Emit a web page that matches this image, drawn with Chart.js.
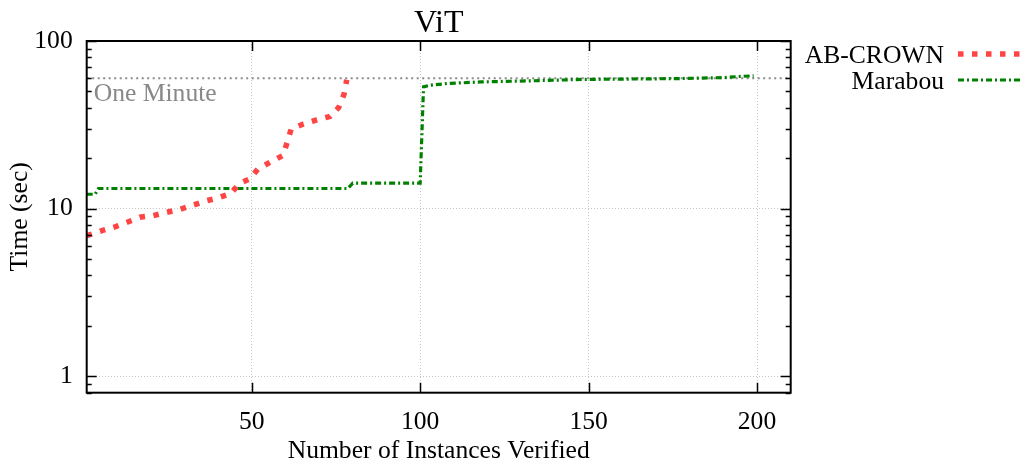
<!DOCTYPE html>
<html>
<head>
<meta charset="utf-8">
<script src="https://cdn.jsdelivr.net/npm/chart.js"></script>
<style>
  body { margin: 0; background: #fff; }
  #wrap { width: 1026px; height: 468px; position: relative; }
</style>
</head>
<body>
<div id="wrap"><canvas id="c"></canvas></div>
<script>
// values
const abX = [1, 5.5, 9.4, 13, 16.8, 20.8, 24.5, 28.5, 32.6, 36.1, 40, 43.7, 46.3, 49.5, 51.9, 55.6, 59.3, 60.5, 61.7, 65.3, 69.2, 73.2, 75.8, 77.4, 78.2];
const abY = [6.9, 7.4, 7.8, 8.3, 8.9, 9.1, 9.5, 9.9, 10.5, 11.1, 11.6, 12.3, 14.1, 15.1, 17.3, 19, 20.8, 24.8, 29.8, 32, 33.8, 35.5, 40.1, 48.2, 58.7];
const maraX = [1, 3.5, 4.5, 78.5, 80, 100, 101, 103, 108, 118, 133, 148, 165, 177, 190, 195, 199];
const maraY = [12.2, 12.2, 13.2, 13.2, 14.2, 14.2, 53.3, 54.5, 55.8, 57.0, 57.9, 59.0, 59.4, 59.7, 60.5, 61.5, 62];
const oneMinute = 60;
const xTicks = [50, 100, 150, 200];
const yTicks = [1, 10, 100];
const xMin = 1, xMax = 210, yMin = 0.8, yMax = 100;

const serif = "'Liberation Serif', 'Times New Roman', serif";
const red = '#ff4444';
const green = '#008000';

function pts(xs, ys) { return xs.map((x, i) => ({ x: x, y: ys[i] })); }

const deco = {
  id: 'deco',
  afterDraw(chart) {
    const ctx = chart.ctx;
    const a = chart.chartArea;
    const xs = chart.scales.x, ys = chart.scales.y;
    ctx.save();
    // frame
    ctx.strokeStyle = '#000';
    ctx.lineWidth = 2;
    ctx.strokeRect(a.left, a.top, a.right - a.left, a.bottom - a.top);
    // tick marks inside
    ctx.lineWidth = 1.5;
    ctx.beginPath();
    xTicks.forEach(v => {
      const p = Math.round(xs.getPixelForValue(v)) + 0.5;
      ctx.moveTo(p, a.bottom); ctx.lineTo(p, a.bottom - 10);
      ctx.moveTo(p, a.top); ctx.lineTo(p, a.top + 10);
    });
    for (let d = 0.1; d <= 100; d *= 10) {
      for (let k = 1; k <= 9; k++) {
        const v = d * k;
        if (v < yMin - 1e-9 || v > yMax + 1e-9) continue;
        const len = k === 1 ? 10 : 5;
        const p = Math.round(ys.getPixelForValue(v)) + 0.5;
        ctx.moveTo(a.left, p); ctx.lineTo(a.left + len, p);
        ctx.moveTo(a.right, p); ctx.lineTo(a.right - len, p);
      }
    }
    ctx.stroke();

    // title
    ctx.fillStyle = '#000';
    ctx.font = '32px ' + serif;
    ctx.textAlign = 'center';
    ctx.textBaseline = 'alphabetic';
    ctx.fillText('ViT', (a.left + a.right) / 2, 32);

    // one minute label
    ctx.fillStyle = '#888';
    ctx.font = '25.6px ' + serif;
    ctx.textAlign = 'left';
    ctx.fillText('One Minute', a.left + 7, ys.getPixelForValue(oneMinute) + 22.5);

    // legend
    const items = [
      { t: 'AB-CROWN', ds: chart.data.datasets[0], y: 54 },
      { t: 'Marabou', ds: chart.data.datasets[1], y: 80 }
    ];
    ctx.font = '25.6px ' + serif;
    ctx.textAlign = 'right';
    items.forEach(it => {
      ctx.fillStyle = '#000';
      ctx.fillText(it.t, 944, it.y + 9);
      ctx.strokeStyle = it.ds.borderColor;
      ctx.lineWidth = it.ds.borderWidth;
      ctx.setLineDash(it.ds.borderDash);
      ctx.beginPath();
      ctx.moveTo(958, it.y);
      ctx.lineTo(1022, it.y);
      ctx.stroke();
    });
    ctx.restore();
  }
};

new Chart(document.getElementById('c'), {
  type: 'line',
  data: {
    datasets: [
      { label: 'AB-CROWN', data: pts(abX, abY), borderColor: red, borderWidth: 5.5, borderDash: [5.5, 8.5], borderCapStyle: 'butt', pointRadius: 0, tension: 0, fill: false },
      { label: 'Marabou', data: pts(maraX, maraY), borderColor: green, borderWidth: 3.2, borderDash: [6, 3, 2, 3], pointRadius: 0, tension: 0, fill: false },
      { label: 'One Minute', data: [{ x: xMin, y: oneMinute }, { x: xMax, y: oneMinute }], borderColor: '#8a8a8a', borderWidth: 2, borderDash: [2, 3.5], pointRadius: 0, fill: false, order: 5 }
    ]
  },
  options: {
    responsive: true,
    maintainAspectRatio: false,
    animation: false,
    layout: { padding: { top: 41, right: 235.3, left: 0, bottom: 0 } },
    plugins: { legend: { display: false }, title: { display: false }, tooltip: { enabled: false } },
    scales: {
      x: {
        type: 'linear', min: xMin, max: xMax,
        afterBuildTicks: s => { s.ticks = xTicks.map(v => ({ value: v })); },
        afterFit: s => { s.height = 75.3; },
        ticks: { color: '#000', font: { family: serif, size: 25.6 }, padding: 14, maxRotation: 0 },
        grid: { color: '#c4c4c4', lineWidth: 1, drawTicks: false },
        border: { display: false, dash: [1, 2] },
        title: { display: true, text: 'Number of Instances Verified', color: '#000', font: { family: serif, size: 25.6 }, padding: { top: 0, bottom: 1 } }
      },
      y: {
        type: 'logarithmic', min: yMin, max: yMax,
        afterBuildTicks: s => { s.ticks = yTicks.map(v => ({ value: v })); },
        afterFit: s => { s.width = 86.7; },
        ticks: { color: '#000', font: { family: serif, size: 25.6 }, padding: 14, callback: v => String(v) },
        grid: { color: '#c4c4c4', lineWidth: 1, drawTicks: false },
        border: { display: false, dash: [1, 2] },
        title: { display: true, text: 'Time (sec)', color: '#000', font: { family: serif, size: 25.6 }, padding: { top: 5, bottom: 0 } }
      }
    }
  },
  plugins: [deco]
});
</script>
</body>
</html>
